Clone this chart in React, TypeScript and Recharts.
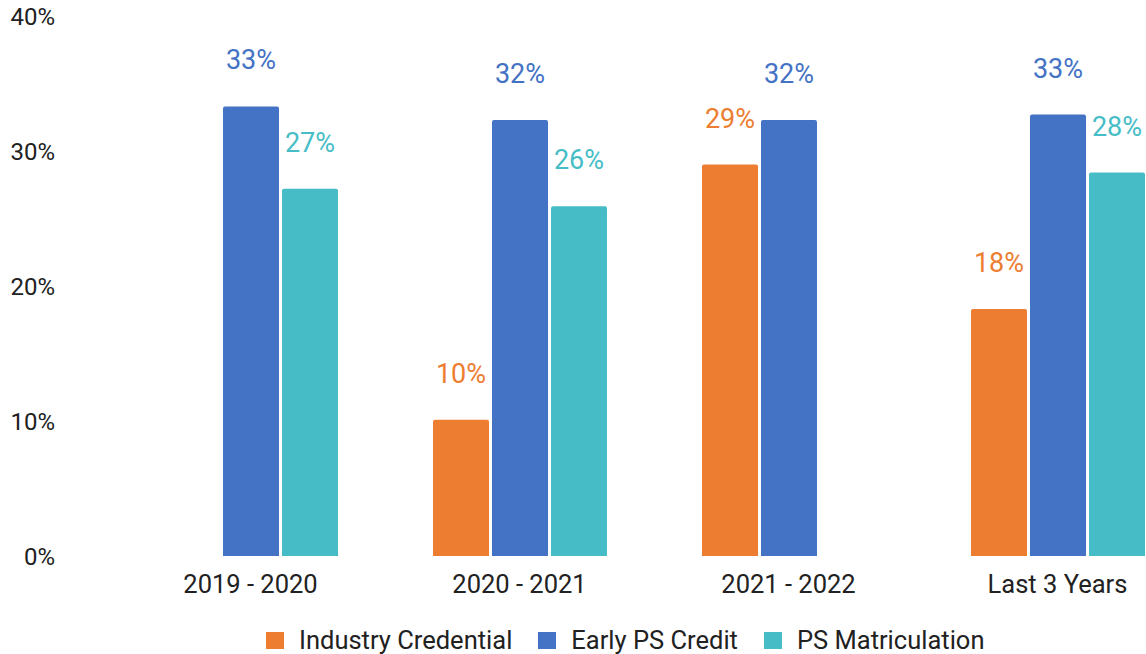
import React from 'react';
import { BarChart, Bar, XAxis, YAxis, Legend, LabelList } from 'recharts';

const categories = ['2019 - 2020', '2020 - 2021', '2021 - 2022', 'Last 3 Years'];
const industryCredential = [null, 10.1, 29.0, 18.3];
const earlyPSCredit = [33.3, 32.3, 32.3, 32.7];
const psMatriculation = [27.2, 25.9, null, 28.4];
const yTicks = [0, 10, 20, 30, 40];

const seriesNames = ['Industry Credential', 'Early PS Credit', 'PS Matriculation'];
const colors = ['#ED7D31', '#4472C4', '#46BDC6'];

const data = categories.map((c, i) => ({
  name: c,
  ind: industryCredential[i],
  early: earlyPSCredit[i],
  matric: psMatriculation[i],
}));

const FONT = 'Roboto, "Noto Sans", sans-serif';

const fmt = (v: any) => (v === null || v === undefined ? '' : `${Math.round(Number(v))}%`);

const LegendContent = () => (
  <div style={{ display: 'flex', alignItems: 'center', height: 28, fontFamily: FONT, fontSize: 25.5, color: '#212121', whiteSpace: 'nowrap' }}>
    {seriesNames.map((n, i) => (
      <div key={n} style={{ display: 'flex', alignItems: 'center', marginRight: 26 }}>
        <span style={{ display: 'inline-block', width: 18, height: 17, background: colors[i], marginRight: 15 }} />
        <span style={{ lineHeight: '28px' }}>{n}</span>
      </div>
    ))}
  </div>
);

export default function App() {
  return (
    <div style={{ position: 'absolute', left: 0, top: 0, width: 1146, height: 654, overflow: 'hidden', background: '#fff' }}>
      <BarChart
        width={1200}
        height={654}
        data={data}
        margin={{ top: 16, right: 8, left: 0, bottom: 0 }}
        barSize={56}
        barGap={3}
      >
        <XAxis
          dataKey="name"
          axisLine={false}
          tickLine={false}
          height={70}
          tickMargin={13}
          tick={{ fontSize: 25.5, fill: '#212121', fontFamily: FONT }}
        />
        <YAxis
          domain={[0, 40]}
          ticks={yTicks}
          width={116}
          axisLine={false}
          tickLine={false}
          tickMargin={55}
          tickFormatter={(v: number) => `${v}%`}
          tick={{ fontSize: 24, fill: '#212121', fontFamily: FONT }}
        />
        <Legend
          verticalAlign="bottom"
          content={<LegendContent />}
          wrapperStyle={{ left: 266, width: 800, height: 28 }}
        />
        <Bar dataKey="ind" name={seriesNames[0]} fill={colors[0]} radius={[2, 2, 0, 0]} isAnimationActive={false}>
          <LabelList dataKey="ind" position="top" offset={37} formatter={fmt} fill={colors[0]} style={{ fontSize: 27, fontFamily: FONT }} />
        </Bar>
        <Bar dataKey="early" name={seriesNames[1]} fill={colors[1]} radius={[2, 2, 0, 0]} isAnimationActive={false}>
          <LabelList dataKey="early" position="top" offset={37} formatter={fmt} fill={colors[1]} style={{ fontSize: 27, fontFamily: FONT }} />
        </Bar>
        <Bar dataKey="matric" name={seriesNames[2]} fill={colors[2]} radius={[2, 2, 0, 0]} isAnimationActive={false}>
          <LabelList dataKey="matric" position="top" offset={37} formatter={fmt} fill={colors[2]} style={{ fontSize: 27, fontFamily: FONT }} />
        </Bar>
      </BarChart>
    </div>
  );
}
